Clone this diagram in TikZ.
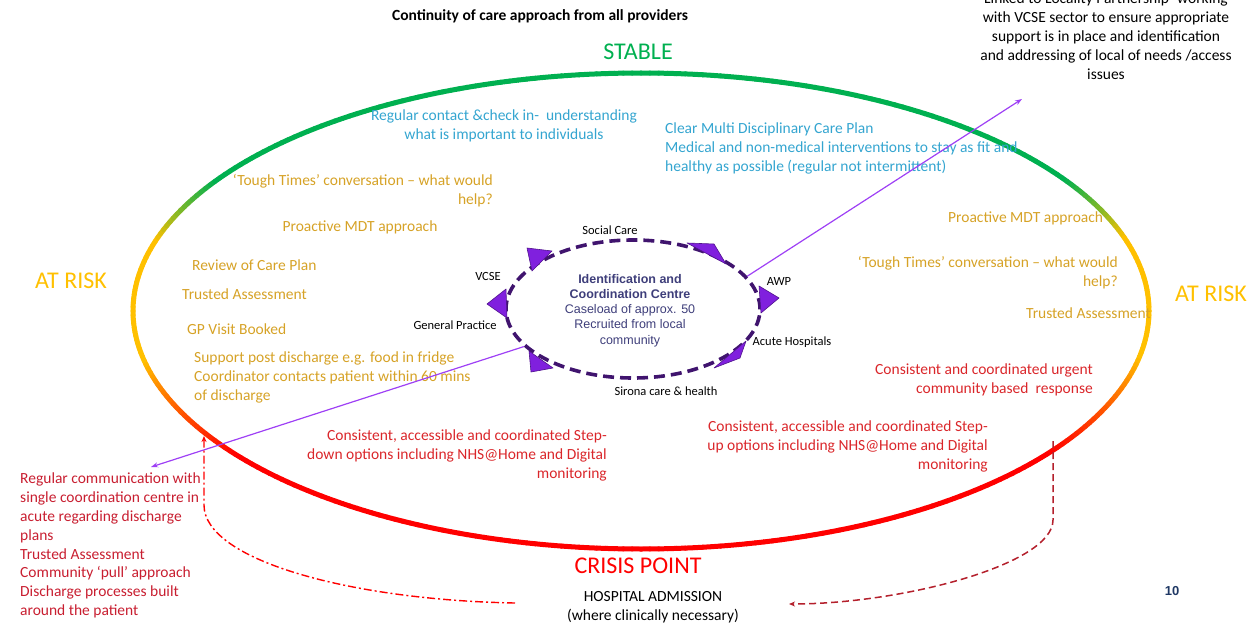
\documentclass[tikz,border=0pt]{standalone}
\usepackage{fontspec}
\setmainfont{Carlito}
\newfontfamily\arialfont{Liberation Sans}
\usetikzlibrary{arrows.meta,shapes.geometric}

\definecolor{ringgreen}{RGB}{0,176,80}
\definecolor{ringyellow}{RGB}{255,192,0}
\definecolor{ringred}{RGB}{255,0,0}
\definecolor{goldtxt}{RGB}{214,162,38}
\definecolor{bluetxt}{RGB}{52,165,208}
\definecolor{redtxt}{RGB}{218,38,42}
\definecolor{deepred}{RGB}{200,30,48}
\definecolor{hubpurple}{RGB}{64,20,110}
\definecolor{tipfill}{RGB}{128,32,222}
\definecolor{tipedge}{RGB}{80,20,140}
\definecolor{linkpurple}{RGB}{158,64,245}
\definecolor{hubtext}{RGB}{62,62,122}
\definecolor{pagenum}{RGB}{31,56,100}
\definecolor{stepupred}{RGB}{180,32,44}

\begin{document}
\begin{tikzpicture}[x=1pt,y=-1pt,
  body/.style={font=\fontsize{15.5}{18.8}\selectfont, inner sep=0pt},
  gold/.style={body, text=goldtxt},
  blue/.style={body, text=bluetxt},
  red/.style={body, text=redtxt},
  phase/.style={font=\fontsize{24}{28}\selectfont, inner sep=0pt},
  partner/.style={font=\fontsize{12.5}{14}\selectfont, inner sep=0pt, text=black},
  tip/.style={fill=tipfill, draw=tipedge, line width=0.6, line join=round},
  link/.style={draw=linkpurple, line width=1.2, -{Stealth[length=7pt,width=5pt]}},
  stepdown/.style={draw=ringred, line width=1.4, dash pattern=on 8pt off 3pt on 2pt off 3pt, -{Stealth[length=6pt,width=5pt]}},
  stepup/.style={draw=stepupred, line width=1.5, dash pattern=on 7pt off 4pt, -{Stealth[length=6pt,width=5pt]}}
]
\useasboundingbox (0,0) rectangle (1250,626);

% outer pathway ring, coloured from stable (top) to crisis (bottom)
\foreach \a in {0,1,...,359}{
  \pgfmathsetmacro{\s}{-sin(\a+0.5)}
  \pgfmathsetmacro{\tg}{max(0,min(1,(\s-0.3)/0.25))*100}
  \pgfmathsetmacro{\tr}{max(0,min(1,(-0.2-\s)/0.4))*100}
  \ifdim\s pt>0pt \colorlet{seg}{ringgreen!\tg!ringyellow}\else\colorlet{seg}{ringred!\tr!ringyellow}\fi
  \draw[line width=5, seg, line cap=round]
    ({641+508*cos(\a)},{311+238*sin(\a)}) -- ({641+508*cos(\a+1)},{311+238*sin(\a+1)});
}

% title and phase labels
\node[font=\fontsize{15.5}{17}\selectfont\bfseries, inner sep=0pt] (title) at (540,16) {Continuity of care approach from all providers};
\node[phase, text=ringgreen] (stable) at (638,52) {STABLE};
\node[phase, text=ringyellow] (riskL) at (71,281) {AT RISK};
\node[phase, text=ringyellow] (riskR) at (1211,294) {AT RISK};
\node[phase, text=ringred] (crisis) at (638,566) {CRISIS POINT};

% locality partnership note
\node[body, align=center, anchor=north] (locality) at (1106,-7)
  {Linked to Locality Partnership- working\\with VCSE sector to ensure appropriate\\support is in place and identification\\and addressing of local of needs /access\\issues};

% stable zone
\node[blue, align=center, anchor=north] (contact) at (504,110)
  {Regular contact \&check in-\ \ understanding\\what is important to individuals};
\node[blue, align=left, anchor=north west] (careplan) at (665,123)
  {Clear Multi Disciplinary Care Plan\\Medical and non-medical interventions to stay as fit and\\healthy as possible (regular not intermittent)};

% at risk zone, left
\node[gold, align=right, anchor=north east] (toughL) at (493,174)
  {`Tough Times’ conversation -- what would\\help?};
\node[gold] (mdtL) at (360,227) {Proactive MDT approach};
\node[gold, anchor=west] (review) at (192,265) {Review of Care Plan};
\node[gold, anchor=west] (trustL) at (182,294) {Trusted Assessment};
\node[gold, anchor=west] (gpvisit) at (187,329) {GP Visit Booked};
\node[gold, align=left, anchor=north west] (support) at (194,352)
  {Support post discharge e.g. food in fridge\\Coordinator contacts patient within 60 mins\\of discharge};

% at risk zone, right
\node[gold, anchor=west] (mdtR) at (948,218) {Proactive MDT approach};
\node[gold, align=right, anchor=north east] (toughR) at (1118,256)
  {`Tough Times’ conversation -- what would\\help?};
\node[gold, anchor=east] (trustR) at (1151,313) {Trusted Assessment};

% crisis responses
\node[red, align=right, anchor=north east] (urgent) at (1093,364)
  {Consistent and coordinated urgent\\community based\ \ response};
\node[red, align=right, anchor=north east] (stepupTxt) at (988,421)
  {Consistent, accessible and coordinated Step-\\up options including NHS@Home and Digital\\monitoring};
\node[red, align=right, anchor=north east] (stepdownTxt) at (607,430)
  {Consistent, accessible and coordinated Step-\\down options including NHS@Home and Digital\\monitoring};
\node[body, text=deepred, align=left, anchor=north west] (acute) at (20,473)
  {Regular communication with\\single coordination centre in\\acute regarding discharge\\plans\\Trusted Assessment\\Community `pull’ approach\\Discharge processes built\\around the patient};

% hospital admission
\node[body, align=center] (hospital) at (653,607)
  {HOSPITAL ADMISSION\\(where clinically necessary)};
\node[font=\arialfont\bfseries\fontsize{13}{15}\selectfont, text=pagenum, inner sep=0pt] (page) at (1172,591) {10};

% identification and coordination centre
\node[ellipse, minimum width=254, minimum height=138, inner sep=0pt,
      draw=hubpurple, line width=3.6, dash pattern=on 11pt off 6pt] (icc) at (633,309) {};
\node[font=\arialfont\fontsize{12.5}{15.2}\selectfont, text=hubtext, align=center, inner sep=0pt, anchor=north] (icctext) at (630,274)
  {\textbf{Identification and}\\\textbf{Coordination Centre}\\Caseload of approx. 50\\Recruited from local\\community};

% flow arrowheads round the centre
\fill[tip] (527,248) -- (552,251) -- (532,271) -- cycle;
\fill[tip] (687,243) -- (714,244) -- (726,264) -- cycle;
\fill[tip] (759,286) -- (779,298) -- (761,313) -- cycle;
\fill[tip] (746,341) -- (740,358) -- (714,368) -- cycle;
\fill[tip] (529,351) -- (531,372) -- (553,368) -- cycle;
\fill[tip] (506,289) -- (487,304) -- (507,318) -- cycle;

% partner labels
\node[partner] (social) at (610,230) {Social Care};
\node[partner] (vcse) at (488,276) {VCSE};
\node[partner] (gp) at (455,325) {General Practice};
\node[partner] (awp) at (779,281) {AWP};
\node[partner] (acuteHosp) at (792,342) {Acute Hospitals};
\node[partner] (sirona) at (666,391) {Sirona care \& health};

% links from the centre
\coordinate (localityEnd) at (1022,99);
\coordinate (acuteEnd) at (151,467);
\draw[link] (icc.16) -- (localityEnd);
\draw[link] (icc.199) -- (acuteEnd);

% step-down and step-up routes
\coordinate (sdStart) at (515,603);
\coordinate (sdEnd) at (204,436);
\draw[stepdown] (sdStart) .. controls (350,600) and (204,560) .. (204,505) -- (sdEnd);
\coordinate (suStart) at (1053,441);
\coordinate (suEnd) at (789,604);
\draw[stepup] (suStart) -- (1053,520) .. controls (1053,565) and (900,604) .. (suEnd);
\end{tikzpicture}
\end{document}
